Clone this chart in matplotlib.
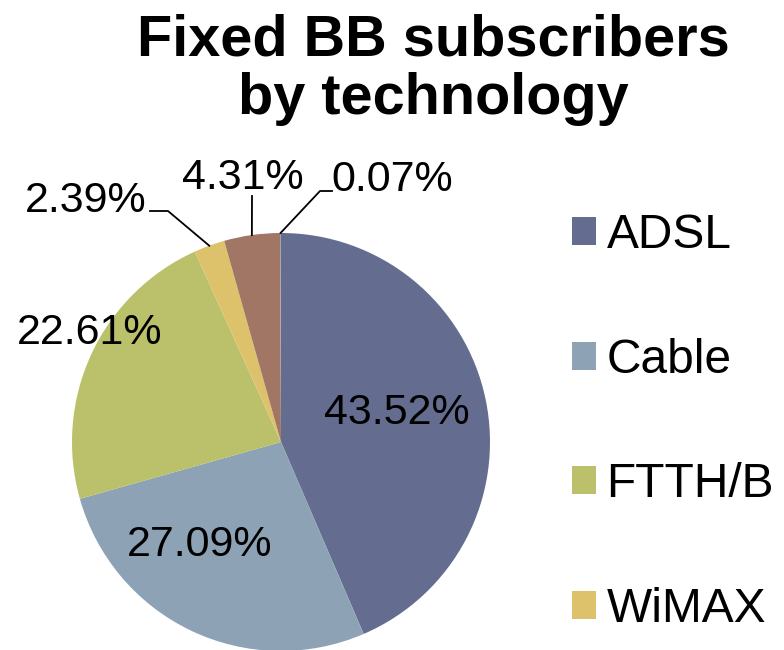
import matplotlib
matplotlib.use("Agg")
import matplotlib.pyplot as plt
import numpy as np
from matplotlib.patches import Patch

categories = ["ADSL", "Cable", "FTTH/B", "WiMAX", "Other", "Satellite"]
values = [43.52, 27.09, 22.61, 2.39, 4.31, 0.07]
colors = ["#646D8F", "#8DA3B5", "#BAC16A", "#DDC26B", "#A27664", "#9A9A9A"]
legend_count = 4

plt.rcParams['font.family'] = ['Liberation Sans', 'DejaVu Sans']

W, H = 784, 650
fig = plt.figure(figsize=(W / 100, H / 100), dpi=100)

cx, cy, r = 281, 442, 209
ax = fig.add_axes([(cx - r) / W, (H - cy - r) / H, 2 * r / W, 2 * r / H])
wedges, _ = ax.pie(values, colors=colors, startangle=90, counterclock=False,
                   radius=1.0, wedgeprops=dict(linewidth=0))
ax.set_xlim(-1, 1)
ax.set_ylim(-1, 1)
ax.set_aspect('equal')
ax.axis('off')

def px(x, y):
    return ((x - cx) / r, (cy - y) / r)

# label positions (pixels) and optional leader (elbow pixel points)
label_pos = [(397, 413), (200, 545), (90, 333), (86, 201), (243, 178), (392, 180)]
leaders = {
    3: [(150, 211), (168, 211)],
    4: [(252, 196)],
    5: [(332, 191), (320, 191)],
}

for i, (v, w) in enumerate(zip(values, wedges)):
    lx, ly = px(*label_pos[i])
    ax.text(lx, ly, f"{v:.2f}%", ha='center', va='center', fontsize=31,
            color='black', clip_on=False)
    if i in leaders:
        ang = np.deg2rad((w.theta1 + w.theta2) / 2)
        ex, ey = np.cos(ang), np.sin(ang)
        pts = [px(*p) for p in leaders[i]] + [(ex, ey)]
        xs, ys = zip(*pts)
        ax.plot(xs, ys, color='black', lw=1.3, clip_on=False)

fig.text(433 / W, 1 - 13 / H, "Fixed BB subscribers\nby technology", ha='center',
         va='top', fontsize=41.5, fontweight='bold', linespacing=1.12)

handles = [Patch(facecolor=colors[i], edgecolor='none') for i in range(legend_count)]
leg = fig.legend(handles, categories[:legend_count], loc='upper left',
                 bbox_to_anchor=(572 / W, 1 - 213 / H), frameon=False,
                 fontsize=34.5, handlelength=0.5, handleheight=0.52,
                 handletextpad=0.22, labelspacing=1.66, borderpad=0,
                 borderaxespad=0)

fig.savefig("out.png", dpi=100)
